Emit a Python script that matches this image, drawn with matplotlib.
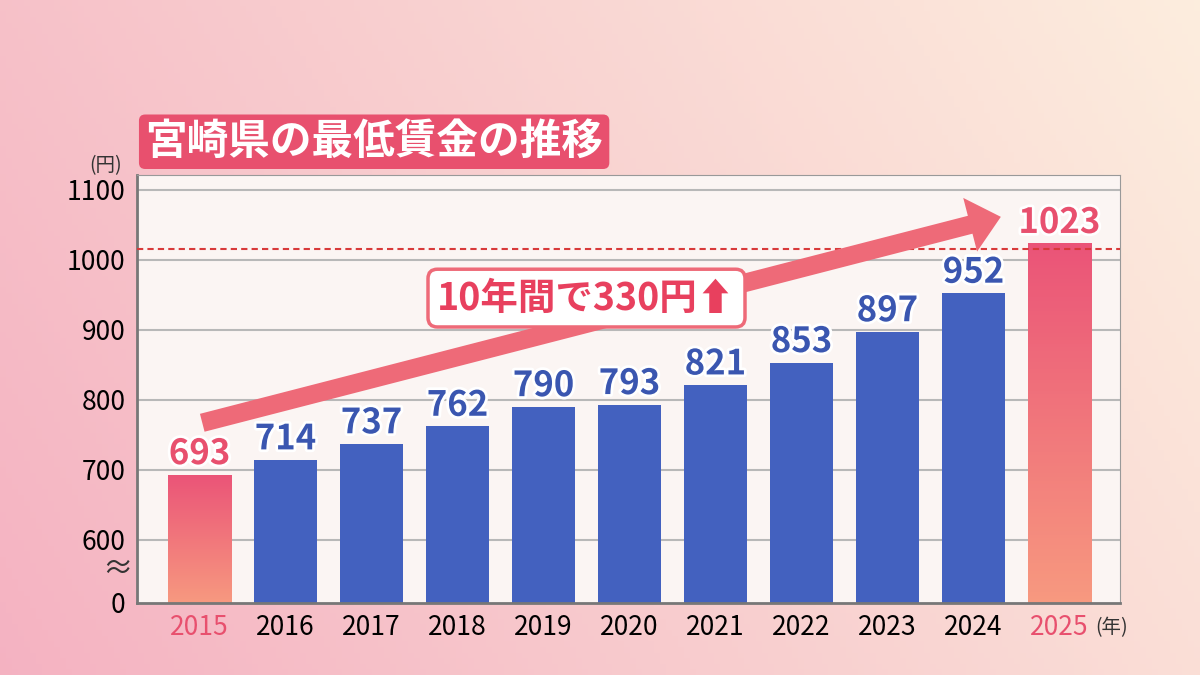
import matplotlib
matplotlib.use("Agg")
import matplotlib.pyplot as plt
import numpy as np
import matplotlib.patheffects as pe

plt.rcParams['font.family'] = ['Noto Sans CJK JP', 'DejaVu Sans']

years = ["2015","2016","2017","2018","2019","2020","2021","2022","2023","2024","2025"]
values = [693,714,737,762,790,793,821,853,897,952,1023]
ytick_vals = [510,600,700,800,900,1000,1100]
ytick_labels = ["0","600","700","800","900","1000","1100"]
base = 510

fig = plt.figure(figsize=(12,6.75), dpi=100)
bg = fig.add_axes([0,0,1,1]); bg.axis('off')
gx = np.linspace(0,1,200); gy = np.linspace(0,1,120)
X, Y = np.meshgrid(gx, gy)
t = np.clip(0.75*X + 0.25*(Y), 0, 1)
c1 = np.array([0.96,0.70,0.76]); c2 = np.array([0.99,0.93,0.87])
img = c1[None,None,:]*(1-t[...,None]) + c2[None,None,:]*t[...,None]
bg.imshow(img, extent=[0,1,0,1], aspect='auto', origin='lower')
bg.set_xlim(0,1); bg.set_ylim(0,1)

ax = fig.add_axes([0.114,0.107,0.819,0.634])
ax.set_facecolor('#fbf5f3')
for v in ytick_vals[1:]:
    ax.axhline(v, color='#b8b8b8', lw=1.5, zorder=0)
for s in ['top','right']:
    ax.spines[s].set_color('#999999')
for s in ['left','bottom']:
    ax.spines[s].set_color('#777777'); ax.spines[s].set_linewidth(2)
ax.set_yticks(ytick_vals); ax.set_yticklabels(ytick_labels, fontsize=19)
ax.tick_params(length=0, pad=8)
ax.set_xticks(range(len(years)))
ax.set_xticklabels(years, fontsize=19)
for i, lab in enumerate(ax.get_xticklabels()):
    if i in (0, len(years)-1): lab.set_color('#e8506e')

w = 0.74
grad = np.linspace(0,1,100)[:,None]
pk = np.array([0.92,0.33,0.47]); og = np.array([0.97,0.60,0.50])
gimg = pk[None,None,:]*grad[...,None] + og[None,None,:]*(1-grad[...,None])
for i, v in enumerate(values):
    if i in (0, len(values)-1):
        bars = ax.bar(i, v-base, bottom=base, width=w, color='none', zorder=2)
        im = ax.imshow(gimg, extent=[i-w/2, i+w/2, base, v], origin='lower', aspect='auto', zorder=2)
        im.set_clip_path(bars[0])
        col = '#e8506e'
    else:
        ax.bar(i, v-base, bottom=base, width=w, color='#4361bf', zorder=2)
        col = '#3a56b0'
    ax.text(i, v+5, str(v), ha='center', va='bottom', fontsize=25, fontweight='bold', color=col,
            path_effects=[pe.withStroke(linewidth=4, foreground='white')], zorder=5)
ax.set_ylim(base,1121); ax.set_xlim(-0.73,10.7)
ax.axhline(1015, color='#d83a3a', lw=1.5, ls=(0,(3,2)), zorder=3)

ax.annotate('', xy=(9.35, 1062), xytext=(0, 766),
            arrowprops=dict(arrowstyle='simple,head_length=1.2,head_width=2.1,tail_width=0.7',
                            mutation_scale=19, fc='#ee6a78', ec='none'), zorder=4)
ax.text(4.5, 945, "10年間で330円⬆", ha='center', va='center', fontsize=27, fontweight='bold',
        color='#e8405e', zorder=6,
        bbox=dict(boxstyle='round,pad=0.25', fc='white', ec='#ee6a78', lw=2.5))

ax.text(-0.78, 557, "≈", fontsize=22, ha='right', va='center', color='#333')
fig.text(0.088, 0.755, "(円)", fontsize=14, ha='center', va='center', color='#333')
fig.text(0.913, 0.07, "(年)", fontsize=14, ha='left', va='center', color='#333')

fig.text(0.121, 0.79, "宮崎県の最低賃金の推移", fontsize=30, fontweight='bold', color='white',
         va='center', ha='left',
         bbox=dict(boxstyle='round,pad=0.15', fc='#e8506e', ec='none'))
fig.savefig("out.png", dpi=100)
